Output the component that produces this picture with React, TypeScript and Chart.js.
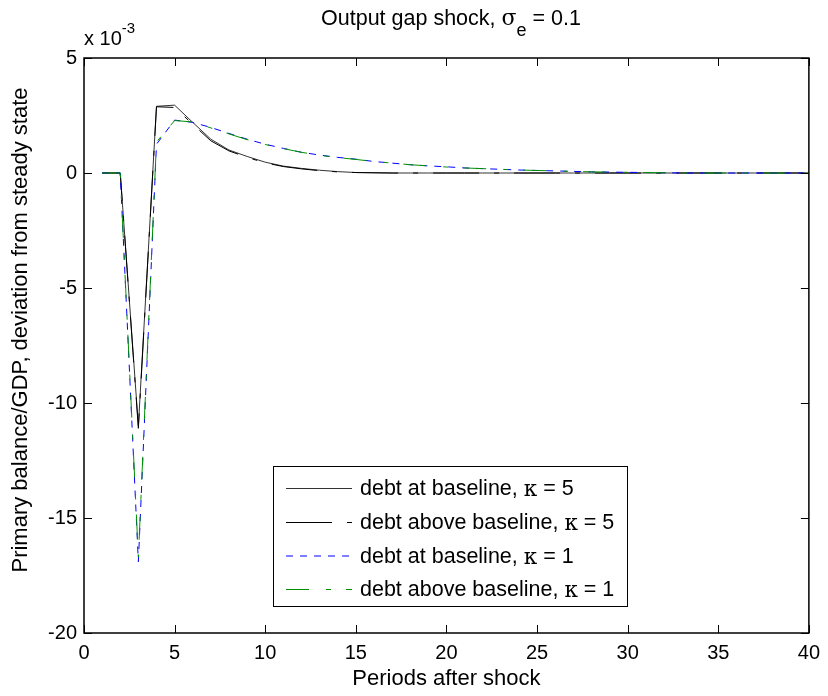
import React, { useEffect, useRef } from "react";
import { Chart, registerables } from "chart.js";

Chart.register(...registerables);

const periods = [
  1, 2, 3, 4, 5, 6, 7, 8, 9, 10, 11, 12, 13, 14, 15, 16, 17, 18, 19, 20,
  21, 22, 23, 24, 25, 26, 27, 28, 29, 30, 31, 32, 33, 34, 35, 36, 37, 38, 39, 40,
];

// values in units of 10^-3
const atBaselineK5 = [
  0, 0, -11.0, 2.9, 2.95, 2.2, 1.47, 1.0, 0.72, 0.47, 0.3, 0.2, 0.12, 0.06, 0.02, 0.01,
  0, 0, 0, 0, 0, 0, 0, 0, 0, 0, 0, 0, 0, 0, 0, 0, 0, 0, 0, 0, 0, 0, 0, 0,
];
const aboveBaselineK5 = [
  0, 0, -11.1, 2.88, 2.85, 2.12, 1.4, 0.96, 0.68, 0.44, 0.28, 0.18, 0.1, 0.05, 0.02, 0.01,
  0, 0, 0, 0, 0, 0, 0, 0, 0, 0, 0, 0, 0, 0, 0, 0, 0, 0, 0, 0, 0, 0, 0, 0,
];
const atBaselineK1 = [
  0, 0, -16.9, 1.25, 2.3, 2.2, 1.98, 1.72, 1.47, 1.25, 1.07, 0.9, 0.78, 0.68, 0.6, 0.5,
  0.43, 0.36, 0.31, 0.27, 0.22, 0.19, 0.16, 0.13, 0.11, 0.09, 0.07, 0.05, 0.04, 0.03, 0.02, 0.01,
  0, 0, 0, 0, 0, 0, 0, 0,
];
const aboveBaselineK1 = [
  0, 0, -16.7, 1.35, 2.28, 2.22, 1.96, 1.7, 1.45, 1.24, 1.06, 0.9, 0.77, 0.67, 0.59, 0.5,
  0.43, 0.36, 0.31, 0.26, 0.22, 0.19, 0.16, 0.13, 0.11, 0.09, 0.07, 0.05, 0.04, 0.03, 0.02, 0.01,
  0, 0, 0, 0, 0, 0, 0, 0,
];

const xTicks = [0, 5, 10, 15, 20, 25, 30, 35, 40];
const yTicks = [-20, -15, -10, -5, 0, 5];

const legendLabels = [
  { pre: "debt at baseline, ", post: " = 5" },
  { pre: "debt above baseline, ", post: " = 5" },
  { pre: "debt at baseline, ", post: " = 1" },
  { pre: "debt above baseline, ", post: " = 1" },
];

const SANS = "'Liberation Sans', Arial, sans-serif";
const SERIF = "'DejaVu Serif', serif";

type Part = { text: string; font: string; dy?: number };

function drawParts(ctx: CanvasRenderingContext2D, parts: Part[], x: number, y: number, align: "left" | "center") {
  let total = 0;
  for (const p of parts) {
    ctx.font = p.font;
    total += ctx.measureText(p.text).width;
  }
  let cx = align === "center" ? x - total / 2 : x;
  ctx.textAlign = "left";
  ctx.textBaseline = "alphabetic";
  for (const p of parts) {
    ctx.font = p.font;
    ctx.fillText(p.text, cx, y + (p.dy || 0));
    cx += ctx.measureText(p.text).width;
  }
}

const decorPlugin = {
  id: "decor",
  afterDatasetsDraw(chart: any) {
    const ctx: CanvasRenderingContext2D = chart.ctx;
    const { left, right, top, bottom } = chart.chartArea;
    const xs = chart.scales.x;
    const ys = chart.scales.y;
    ctx.save();
    // ticks inward
    ctx.strokeStyle = "#000";
    ctx.lineWidth = 1;
    ctx.beginPath();
    for (const v of xTicks) {
      const px = Math.round(xs.getPixelForValue(v)) + 0.5;
      ctx.moveTo(px, bottom);
      ctx.lineTo(px, bottom - 8);
      ctx.moveTo(px, top);
      ctx.lineTo(px, top + 8);
    }
    for (const v of yTicks) {
      const py = Math.round(ys.getPixelForValue(v)) + 0.5;
      ctx.moveTo(left, py);
      ctx.lineTo(left + 8, py);
      ctx.moveTo(right, py);
      ctx.lineTo(right - 8, py);
    }
    ctx.stroke();
    // box
    ctx.lineWidth = 1.5;
    ctx.strokeRect(left, top, right - left, bottom - top);

    ctx.fillStyle = "#000";
    // title
    drawParts(
      ctx,
      [
        { text: "Output gap shock, ", font: `21.5px ${SANS}` },
        { text: "σ", font: `22px ${SERIF}` },
        { text: "e", font: `18px ${SANS}`, dy: 11 },
        { text: " = 0.1", font: `21.5px ${SANS}` },
      ],
      451,
      25,
      "center"
    );
    // exponent
    drawParts(
      ctx,
      [
        { text: "x 10", font: `20px ${SANS}` },
        { text: "-3", font: `15px ${SANS}`, dy: -12 },
      ],
      left,
      45,
      "left"
    );
    // axis titles
    ctx.font = `22px ${SANS}`;
    ctx.textAlign = "center";
    ctx.textBaseline = "middle";
    ctx.fillText("Periods after shock", (left + right) / 2, 679);
    ctx.save();
    ctx.translate(21, 330);
    ctx.rotate(-Math.PI / 2);
    ctx.fillText("Primary balance/GDP, deviation from steady state", 0, 0);
    ctx.restore();

    // legend
    const lx = 273, ly = 466, lw = 354, lh = 140;
    ctx.fillStyle = "#fff";
    ctx.fillRect(lx, ly, lw, lh);
    ctx.strokeStyle = "#000";
    ctx.lineWidth = 1;
    ctx.strokeRect(lx + 0.5, ly + 0.5, lw, lh);
    const rows = [488, 522, 555.5, 589];
    chart.data.datasets.forEach((ds: any, i: number) => {
      const ry = rows[i];
      ctx.save();
      ctx.strokeStyle = ds.borderColor;
      ctx.lineWidth = ds.borderWidth;
      ctx.setLineDash(ds.borderDash || []);
      ctx.beginPath();
      ctx.moveTo(286, ry + 0.5);
      ctx.lineTo(352, ry + 0.5);
      ctx.stroke();
      ctx.restore();
      ctx.fillStyle = "#000";
      drawParts(
        ctx,
        [
          { text: legendLabels[i].pre, font: `21.5px ${SANS}` },
          { text: "κ", font: `21.5px ${SERIF}`, dy: 1 },
          { text: legendLabels[i].post, font: `21.5px ${SANS}` },
        ],
        360,
        ry + 7,
        "left"
      );
    });
    ctx.restore();
  },
};

export default function App() {
  const ref = useRef<HTMLCanvasElement | null>(null);
  useEffect(() => {
    if (!ref.current) return;
    const mk = (vals: number[]) => periods.map((p, i) => ({ x: p, y: vals[i] }));
    const chart = new Chart(ref.current, {
      type: "line",
      data: {
        datasets: [
          { label: "debt at baseline, κ = 5", data: mk(atBaselineK5), order: 3, borderColor: "#333333", borderWidth: 1, pointRadius: 0, tension: 0, fill: false },
          { label: "debt above baseline, κ = 5", data: mk(aboveBaselineK5), order: 2, borderColor: "#000000", borderWidth: 1, borderDash: [46, 15, 5, 15], pointRadius: 0, tension: 0, fill: false },
          { label: "debt at baseline, κ = 1", data: mk(atBaselineK1), order: 1, borderColor: "#0000ff", borderWidth: 1, borderDash: [7, 7], pointRadius: 0, tension: 0, fill: false },
          { label: "debt above baseline, κ = 1", data: mk(aboveBaselineK1), order: 0, borderColor: "#009000", borderWidth: 1, borderDash: [23, 17, 5, 15], pointRadius: 0, tension: 0, fill: false },
        ] as any,
      },
      options: {
        responsive: false,
        animation: false,
        devicePixelRatio: 1,
        layout: { padding: { top: 58, right: 14, left: 0, bottom: 0 } },
        plugins: { legend: { display: false }, title: { display: false }, tooltip: { enabled: false } },
        scales: {
          x: {
            type: "linear",
            min: 0,
            max: 40,
            afterBuildTicks: (s: any) => { s.ticks = xTicks.map((v) => ({ value: v })); },
            afterFit: (s: any) => { s.height = 63; },
            grid: { display: false, drawTicks: false },
            border: { display: false },
            ticks: { color: "#000", font: { family: SANS, size: 20 }, padding: 8, maxRotation: 0 },
          },
          y: {
            type: "linear",
            min: -20,
            max: 5,
            afterBuildTicks: (s: any) => { s.ticks = yTicks.map((v) => ({ value: v })); },
            afterFit: (s: any) => { s.width = 84; },
            grid: { display: false, drawTicks: false },
            border: { display: false },
            ticks: { color: "#000", font: { family: SANS, size: 20 }, padding: 7 },
          },
        },
      } as any,
      plugins: [decorPlugin],
    });
    return () => chart.destroy();
  }, []);
  return (
    <div style={{ position: "fixed", left: 0, top: 0, width: 828, height: 696, background: "#fff" }}>
      <canvas ref={ref} width={828} height={696} />
    </div>
  );
}
